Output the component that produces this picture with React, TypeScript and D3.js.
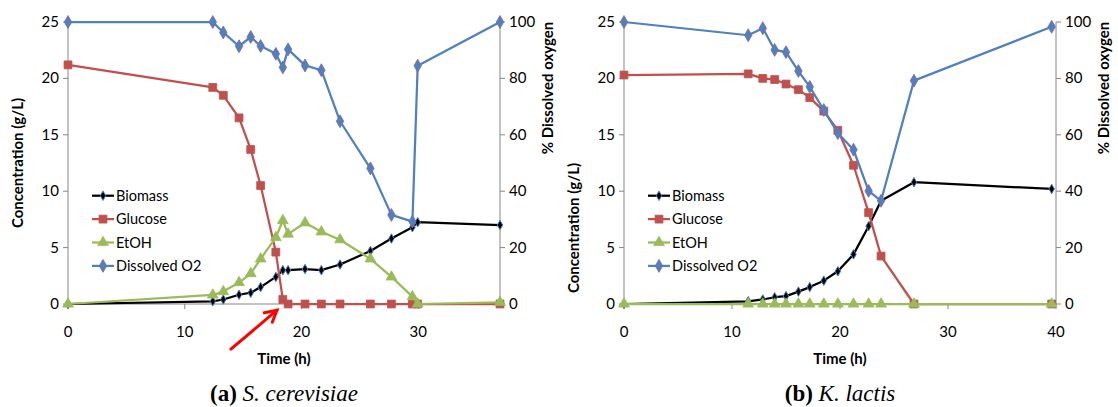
import React from "react";
import * as d3 from "d3";

// ---------- DATA ----------
const seriesNames = ["Biomass", "Glucose", "EtOH", "Dissolved O2"];
const yLeftTicks = [0, 5, 10, 15, 20, 25];
const yRightTicks = [0, 20, 40, 60, 80, 100];

// (a) S. cerevisiae
const timeA = [0, 12.4, 13.3, 14.65, 15.65, 16.5, 17.8, 18.4, 18.85, 20.3, 21.7, 23.3, 25.9, 27.7, 29.5, 29.95, 37];
const biomassA = [0, 0.24, 0.4, 0.82, 1.0, 1.5, 2.4, 3.0, 3.0, 3.1, 3.0, 3.5, 4.7, 5.8, 6.8, 7.25, 7.0];
const glucoseA = [21.2, 19.2, 18.5, 16.5, 13.7, 10.5, 4.6, 0.4, 0, 0, 0, 0, 0, 0, 0, 0, 0];
const etohA = [0, 0.8, 1.1, 1.9, 2.7, 4.0, 5.9, 7.4, 6.2, 7.2, 6.4, 5.7, 4.0, 2.4, 0.65, 0, 0.15];
const o2A = [100, 100, 96.3, 91.4, 94.7, 91.5, 88.7, 83.9, 90.3, 84.6, 82.9, 64.8, 48.1, 31.6, 29.2, 84.5, 100];
const xTicksA = [0, 10, 20, 30];

// (b) K. lactis
const timeB = [0, 11.5, 12.85, 13.95, 15.0, 16.15, 17.2, 18.5, 19.8, 21.25, 22.65, 23.8, 26.85, 39.6];
const biomassB = [0, 0.24, 0.4, 0.6, 0.7, 1.1, 1.5, 2.07, 2.9, 4.4, 6.9, 9.15, 10.8, 10.2];
const glucoseB = [20.3, 20.4, 20.0, 19.9, 19.5, 19.0, 18.3, 17.1, 15.4, 12.3, 8.1, 4.25, 0, 0];
const etohB = [0, 0, 0, 0, 0, 0, 0, 0, 0, 0, 0, 0, 0, 0];
const o2B = [100, 95.3, 97.8, 90.1, 89.3, 82.6, 77.0, 68.8, 60.6, 54.7, 40.1, 36.6, 79.2, 98.3];
const xTicksB = [0, 10, 20, 30, 40];

// ---------- STYLE ----------
const FONT = "Lato, 'Open Sans', sans-serif";
const SERIF = "'Liberation Serif', 'DejaVu Serif', serif";
const AXIS = "#868686";
const styles = [
  { line: "#000000", fill: "#000000", stroke: "#4F81BD", sym: d3.symbolDiamond, size: 26 },
  { line: "#C0504D", fill: "#C0504D", stroke: "#C0504D", sym: d3.symbolSquare, size: 62 },
  { line: "#9BBB59", fill: "#9BBB59", stroke: "#9BBB59", sym: d3.symbolTriangle, size: 50 },
  { line: "#4F81BD", fill: "#4F81BD", stroke: "#8064A2", sym: d3.symbolDiamond, size: 48 },
];

const TOP = 22;
const BOTTOM = 304;

type PanelProps = {
  left: number;
  right: number;
  xMax: number;
  time: number[];
  biomass: number[];
  glucose: number[];
  etoh: number[];
  o2: number[];
  xTicks: number[];
  label: string;
  species: string;
  arrow?: boolean;
  leftTitleY: number;
  rightTitleY: number;
};

function Marker({ s, x, y }: { s: number; x: number; y: number }) {
  const st = styles[s];
  const path = d3.symbol().type(st.sym).size(st.size)() as string;
  return (
    <path
      d={path}
      transform={`translate(${x},${y})`}
      fill={st.fill}
      stroke={st.stroke}
      strokeWidth={s === 0 ? 1 : 0.8}
    />
  );
}

function Panel(p: PanelProps) {
  const x = d3.scaleLinear().domain([0, p.xMax]).range([p.left, p.right]);
  const y = d3.scaleLinear().domain([0, 25]).range([BOTTOM, TOP]);
  const y2 = d3.scaleLinear().domain([0, 100]).range([BOTTOM, TOP]);
  const data = [p.biomass, p.glucose, p.etoh, p.o2];
  const scales = [y, y, y, y2];
  const mid = (p.left + p.right) / 2;

  const series = data.map((vals, i) => {
    const pts: [number, number][] = p.time.map((t, j) => [x(t), scales[i](vals[j])]);
    const line = d3.line()(pts) as string;
    return (
      <g key={i}>
        <path d={line} fill="none" stroke={styles[i].line} strokeWidth={2.25} strokeLinejoin="round" />
        {pts.map((pt, j) => (
          <Marker key={j} s={i} x={pt[0]} y={pt[1]} />
        ))}
      </g>
    );
  });

  // legend
  const legY0 = y(9.6);
  const legStep = 23.4;
  const legend = seriesNames.map((n, i) => {
    const ly = legY0 + i * legStep;
    const lx = p.left + 24;
    return (
      <g key={n}>
        <line x1={lx} x2={lx + 22} y1={ly} y2={ly} stroke={styles[i].line} strokeWidth={2.25} />
        <Marker s={i} x={lx + 11} y={ly} />
        <text x={lx + 24} y={ly + 5} fontFamily={FONT} fontSize={14.5} fill="#000">
          {n}
        </text>
      </g>
    );
  });

  let arrow = null;
  if (p.arrow) {
    const tx = x(17.9), ty = y(-0.55);
    const sx = x(13.95), sy = y(-4.0);
    const ang = Math.atan2(ty - sy, tx - sx);
    const L = 13;
    const a1 = ang + Math.PI - 0.5, a2 = ang + Math.PI + 0.5;
    arrow = (
      <g stroke="#FF0000" strokeWidth={3} fill="none" strokeLinecap="round">
        <line x1={sx} y1={sy} x2={tx} y2={ty} />
        <polyline
          points={`${tx + L * Math.cos(a1)},${ty + L * Math.sin(a1)} ${tx},${ty} ${tx + L * Math.cos(a2)},${ty + L * Math.sin(a2)}`}
          strokeLinejoin="miter"
        />
      </g>
    );
  }

  return (
    <g>
      {/* axes */}
      <line x1={p.left} x2={p.left} y1={TOP} y2={BOTTOM} stroke={AXIS} strokeWidth={1} />
      <line x1={p.right} x2={p.right} y1={TOP} y2={BOTTOM} stroke={AXIS} strokeWidth={1} />
      <line x1={p.left} x2={p.right} y1={BOTTOM} y2={BOTTOM} stroke={AXIS} strokeWidth={1} />
      {yLeftTicks.map((t) => (
        <g key={"l" + t}>
          <line x1={p.left - 5} x2={p.left} y1={y(t)} y2={y(t)} stroke={AXIS} />
          <text x={p.left - 9} y={y(t) + 5} textAnchor="end" fontFamily={FONT} fontSize={15} fill="#000">
            {t}
          </text>
        </g>
      ))}
      {yRightTicks.map((t) => (
        <g key={"r" + t}>
          <line x1={p.right} x2={p.right + 5} y1={y2(t)} y2={y2(t)} stroke={AXIS} />
          <text x={p.right + 9} y={y2(t) + 5} textAnchor="start" fontFamily={FONT} fontSize={15} fill="#000">
            {t}
          </text>
        </g>
      ))}
      {p.xTicks.map((t) => (
        <g key={"x" + t}>
          <line x1={x(t)} x2={x(t)} y1={BOTTOM} y2={BOTTOM + 5} stroke={AXIS} />
          <text x={x(t)} y={BOTTOM + 33} textAnchor="middle" fontFamily={FONT} fontSize={15} fill="#000">
            {t}
          </text>
        </g>
      ))}
      <text x={mid} y={BOTTOM + 60} textAnchor="middle" fontFamily={FONT} fontSize={15} fontWeight="bold">
        Time (h)
      </text>
      <text
        transform={`translate(${p.left - 45},${p.leftTitleY}) rotate(-90)`}
        textAnchor="middle"
        fontFamily={FONT}
        fontSize={15}
        fontWeight="bold"
      >
        Concentration (g/L)
      </text>
      <text
        transform={`translate(${p.right + 53},${p.rightTitleY}) rotate(-90)`}
        textAnchor="middle"
        fontFamily={FONT}
        fontSize={15}
        fontWeight="bold"
      >
        % Dissolved oxygen
      </text>
      {series}
      {legend}
      {arrow}
      <text x={mid} y={401} textAnchor="middle" fontFamily={SERIF} fontSize={23} fill="#000">
        <tspan fontWeight="bold">{p.label}</tspan>
        <tspan fontStyle="italic">{" " + p.species}</tspan>
      </text>
    </g>
  );
}

export default function App() {
  return (
    <svg
      width={1118}
      height={407}
      style={{ position: "absolute", left: 0, top: 0, background: "#fff" }}
    >
      <rect width={1118} height={407} fill="#fff" />
      <Panel
        left={68}
        right={500}
        xMax={37}
        time={timeA}
        biomass={biomassA}
        glucose={glucoseA}
        etoh={etohA}
        o2={o2A}
        xTicks={xTicksA}
        label="(a)"
        species="S. cerevisiae"
        arrow
        leftTitleY={163}
        rightTitleY={88}
      />
      <Panel
        left={624}
        right={1056}
        xMax={40}
        time={timeB}
        biomass={biomassB}
        glucose={glucoseB}
        etoh={etohB}
        o2={o2B}
        xTicks={xTicksB}
        label="(b)"
        species="K. lactis"
        leftTitleY={228}
        rightTitleY={88}
      />
    </svg>
  );
}
